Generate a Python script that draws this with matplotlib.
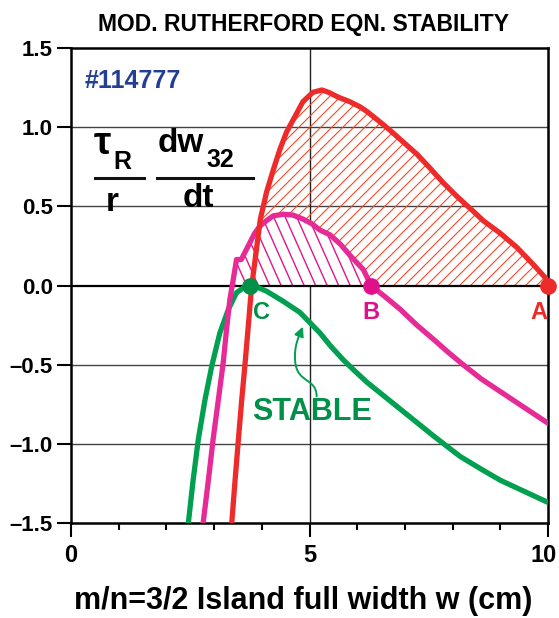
import matplotlib
matplotlib.use('Agg')
import matplotlib.pyplot as plt
from matplotlib.lines import Line2D
from matplotlib.patches import Polygon, FancyArrowPatch
from matplotlib.collections import LineCollection
from matplotlib.path import Path
from matplotlib.transforms import ScaledTranslation
import numpy as np

plt.rcParams['font.family'] = ['Liberation Sans Narrow', 'Liberation Sans', 'DejaVu Sans']
plt.rcParams['font.weight'] = 'bold'
plt.rcParams['axes.unicode_minus'] = False

# island growth curves, w (cm) vs tau_R/r dw/dt
red_w = [3.37, 3.44, 3.51, 3.58, 3.65, 3.71, 3.76, 3.79, 3.88, 3.97, 4.10, 4.24, 4.38,
         4.52, 4.70, 4.86, 5.07, 5.26, 5.40, 5.60, 5.85, 6.05, 6.20, 6.45, 6.69, 6.95,
         7.25, 7.50, 7.80, 8.10, 8.43, 8.64, 9.00, 9.35, 9.70, 10.0]
red_g = [-1.5, -1.23, -0.97, -0.72, -0.49, -0.28, -0.10, 0.0, 0.21, 0.42, 0.59, 0.73, 0.86,
         0.97, 1.07, 1.16, 1.22, 1.235, 1.22, 1.19, 1.16, 1.13, 1.10, 1.04, 0.98, 0.91,
         0.83, 0.75, 0.65, 0.56, 0.47, 0.41, 0.33, 0.24, 0.13, 0.03]

mag_w = [2.77, 2.88, 2.98, 3.09, 3.19, 3.26, 3.33, 3.38, 3.43, 3.47, 3.57, 3.63, 3.75,
         3.85, 3.96, 4.10, 4.24, 4.45, 4.65, 4.86, 5.05, 5.22, 5.43, 5.65, 5.85, 6.13,
         6.29, 6.60, 6.90, 7.25, 7.60, 7.90, 8.22, 8.60, 9.00, 9.50, 10.0]
mag_g = [-1.5, -1.23, -0.97, -0.72, -0.49, -0.28, -0.09, 0.0, 0.09, 0.164, 0.164, 0.20, 0.27,
         0.33, 0.375, 0.41, 0.44, 0.45, 0.445, 0.42, 0.39, 0.35, 0.32, 0.26, 0.19, 0.10,
         0.0, -0.075, -0.15, -0.25, -0.34, -0.42, -0.50, -0.59, -0.67, -0.77, -0.87]

grn_w = [2.46, 2.56, 2.67, 2.81, 2.95, 3.12, 3.30, 3.47, 3.65, 3.75, 3.90, 4.10, 4.45,
         4.80, 5.01, 5.22, 5.45, 5.71, 5.95, 6.20, 6.55, 6.90, 7.25, 7.60, 7.90, 8.16,
         8.60, 9.00, 9.50, 10.0]
grn_g = [-1.5, -1.23, -0.97, -0.72, -0.51, -0.30, -0.15, -0.045, -0.008, 0.0, -0.01, -0.036,
         -0.10, -0.17, -0.235, -0.30, -0.385, -0.47, -0.54, -0.61, -0.695, -0.78, -0.865,
         -0.95, -1.02, -1.08, -1.16, -1.23, -1.30, -1.37]

# marginal points (zero crossings)
pt_labels = ['A', 'B', 'C']
pt_w = [10.0, 6.29, 3.75]

RED = '#ee2b2b'
MAG = '#e62a96'
GRN = '#00a050'
HATCH_RED = '#f04a2a'
HATCH_MAG = '#e0158c'
BLUE = '#233f94'

fig = plt.figure(figsize=(5.59, 6.18), dpi=100)
ax = fig.add_axes([71/559, 1-523/618, 477/559, 475/618])

ax.set_xlim(0, 10)
ax.set_ylim(-1.5, 1.5)

for yv in [-1.0, -0.5, 0.5, 1.0]:
    ax.axhline(yv, color='#444444', lw=1.0, zorder=1)
ax.axvline(5, color='#222222', lw=1.0, zorder=1)

# pixels per data unit, used to get the hatch angles right on screen
sx = 477 / 10.0
sy = 475 / 3.0


def hatch_lines(x_starts, slope_px, color, lw, clip, z):
    k = slope_px * sx / sy
    segs = []
    for c in x_starts:
        segs.append([(c, 0.0), (c + 1.6 / k, 1.6)])
    lc = LineCollection(segs, colors=color, linewidths=lw, zorder=z)
    ax.add_collection(lc)
    lc.set_clip_path(clip)


rw = np.array(red_w); rg = np.array(red_g)
keep = rg >= 0
red_poly = np.vstack([np.column_stack([rw[keep], rg[keep]]), [[10.0, 0.0]]])
red_patch = Polygon(red_poly, closed=True, facecolor='none', edgecolor='none', zorder=2)
ax.add_patch(red_patch)
hatch_lines(np.arange(-2.0, 10.5, 11 / sx), 1.0, HATCH_RED, 0.8, red_patch, 2)

mw = np.array(mag_w); mg = np.array(mag_g)
keep = (mg >= 0) & (mw >= 3.38) & (mw <= 6.29)
mag_poly = np.column_stack([mw[keep], mg[keep]])
mag_patch = Polygon(mag_poly, closed=True, facecolor='white', edgecolor='none', zorder=3)
ax.add_patch(mag_patch)
hatch_lines(np.arange(3.2, 7.2, 11.5 / sx), -2.25, HATCH_MAG, 1.0, mag_patch, 3.2)

ax.axhline(0, color='black', lw=1.6, zorder=3.5)

ax.plot(grn_w, grn_g, color=GRN, lw=3.8, zorder=4, solid_joinstyle='round')
ax.plot(mag_w, mag_g, color=MAG, lw=3.8, zorder=5, solid_joinstyle='round')
ax.plot(red_w, red_g, color=RED, lw=3.8, zorder=6, solid_joinstyle='round')

pt_colors = [RED, '#e0108c', '#009048']
for lab, w, c in zip(pt_labels, pt_w, pt_colors):
    ax.plot([w], [0], 'o', color=c, ms=11, zorder=7, clip_on=False)
ax.text(10.0 - 0.2, -0.17, 'A', color=RED, fontsize=17, ha='center', va='center')
ax.text(6.29, -0.17, 'B', color='#e0108c', fontsize=17, ha='center', va='center')
ax.text(3.75 + 0.25, -0.17, 'C', color='#009048', fontsize=17, ha='center', va='center')

ax.text(5.05, -0.80, 'STABLE', color='#009048', fontsize=22, ha='center', va='center')
arrow_path = Path([(5.15, -0.70), (5.14, -0.58), (4.74, -0.62), (4.70, -0.48),
                   (4.67, -0.38), (4.78, -0.32), (4.86, -0.26)],
                  [Path.MOVETO, Path.CURVE4, Path.CURVE4, Path.CURVE4,
                   Path.CURVE4, Path.CURVE4, Path.CURVE4])
ax.add_patch(FancyArrowPatch(path=arrow_path, arrowstyle='-|>', mutation_scale=14,
                             color=GRN, lw=1.4, zorder=6))

ax.text(0.29, 1.29, '#114777', color=BLUE, fontsize=18, ha='left', va='center')

ax.set_xticks([0, 5, 10])
ax.set_xticklabels(['0', '5', '10'])
ax.set_xticks([1, 2, 3, 4, 6, 7, 8, 9], minor=True)
ax.set_yticks([-1.5, -1.0, -0.5, 0.0, 0.5, 1.0, 1.5])
ax.set_yticklabels(['\u20131.5', '\u20131.0', '\u20130.5', '0.0', '0.5', '1.0', '1.5'])
ax.tick_params(axis='y', direction='out', length=10, width=1.5, labelsize=16, pad=3)
ax.tick_params(axis='x', which='major', direction='out', length=10, width=1.5,
               labelsize=17, pad=5)
ax.tick_params(axis='x', which='minor', direction='out', length=5, width=1.5)
for s in ax.spines.values():
    s.set_linewidth(1.8)
last = ax.get_xticklabels()[-1]
last.set_transform(last.get_transform() + ScaledTranslation(-4 / 100, 0, fig.dpi_scale_trans))

ax.set_title('MOD. RUTHERFORD EQN. STABILITY', fontsize=16.5, fontweight='bold', pad=12,
             x=0.488)
ax.set_xlabel('m/n=3/2 Island full width w (cm)', fontsize=22, fontweight='bold',
              labelpad=14, x=0.487)


def fpos(x, y):
    return x / 559, 1 - y / 618


# tau_R / r  dw_32 / dt
fig.text(*fpos(94, 144), '\u03c4', fontsize=28, ha='left', va='center')
fig.text(*fpos(113, 162), 'R', fontsize=18, ha='left', va='center')
fig.text(*fpos(112, 203), 'r', fontsize=24, ha='center', va='center')
fig.text(*fpos(158, 143), 'dw', fontsize=24, ha='left', va='center')
fig.text(*fpos(206, 160), '32', fontsize=18, ha='left', va='center')
fig.text(*fpos(198, 198), 'dt', fontsize=24, ha='center', va='center')
for x0, x1 in [(95, 144), (157, 253)]:
    fig.add_artist(Line2D([x0 / 559, x1 / 559], [1 - 178 / 618] * 2, color='#111111',
                          lw=2.2, transform=fig.transFigure))

fig.savefig('out.png', dpi=100)
